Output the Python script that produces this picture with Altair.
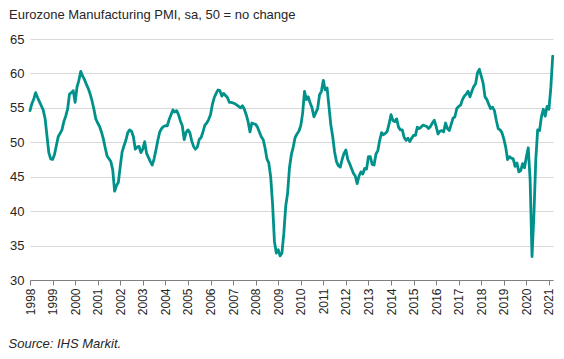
import altair as alt
import pandas as pd

# Monthly Eurozone Manufacturing PMI values, Jan 1998 - Mar 2021
years = list(range(1998, 2022))
pmi_1998 = [54.6, 55.6, 56.3, 57.2, 56.5, 55.9, 55.3, 54.7, 53.5, 51.0, 48.5, 47.6]
pmi_1999 = [47.5, 48.2, 49.5, 50.8, 51.3, 51.8, 53.0, 53.8, 54.8, 57.0, 57.2, 57.5]
pmi_2000 = [55.8, 58.0, 59.0, 60.3, 59.6, 59.1, 58.4, 57.8, 57.0, 56.0, 54.8, 53.4]
pmi_2001 = [52.8, 52.3, 51.5, 50.5, 49.2, 48.0, 47.6, 47.2, 46.0, 42.9, 43.7, 44.2]
pmi_2002 = [46.5, 48.6, 49.5, 50.3, 51.4, 51.8, 51.6, 50.8, 49.0, 49.3, 49.4, 48.5]
pmi_2003 = [49.0, 50.1, 48.4, 47.8, 47.2, 46.7, 47.6, 48.9, 50.3, 51.5, 52.0, 52.3]
pmi_2004 = [52.4, 52.4, 53.3, 54.0, 54.7, 54.4, 54.6, 54.0, 53.1, 52.4, 50.4, 51.4]
pmi_2005 = [51.8, 51.4, 50.2, 49.4, 49.0, 49.3, 50.4, 50.7, 51.5, 52.5, 52.8, 53.3]
pmi_2006 = [54.0, 55.5, 56.5, 57.1, 57.6, 57.5, 56.7, 57.1, 56.8, 56.5, 55.8, 55.8]
pmi_2007 = [55.7, 55.6, 55.4, 55.2, 55.0, 55.3, 54.8, 54.0, 53.0, 51.5, 52.8, 52.7]
pmi_2008 = [52.6, 52.2, 51.5, 50.8, 50.4, 49.2, 47.6, 47.0, 45.0, 41.1, 35.6, 33.9]
pmi_2009 = [34.4, 33.5, 33.9, 36.8, 40.7, 42.6, 46.3, 48.2, 49.3, 50.7, 51.2, 51.6]
pmi_2010 = [52.4, 54.2, 57.4, 56.2, 56.6, 55.7, 55.0, 53.7, 54.3, 54.9, 56.9, 57.4]
pmi_2011 = [59.0, 57.6, 57.9, 55.2, 52.5, 50.8, 48.6, 47.2, 46.6, 46.4, 47.5, 48.4]
pmi_2012 = [48.9, 47.5, 46.9, 46.2, 45.5, 45.1, 44.0, 45.1, 45.7, 45.4, 46.2, 46.1]
pmi_2013 = [47.9, 47.9, 46.8, 46.7, 48.3, 48.8, 50.3, 51.4, 51.1, 51.3, 51.6, 52.7]
pmi_2014 = [54.0, 53.2, 53.0, 53.4, 52.2, 51.8, 51.8, 50.7, 50.3, 50.6, 50.1, 50.6]
pmi_2015 = [51.0, 51.0, 52.2, 52.0, 52.2, 52.5, 52.4, 52.3, 52.0, 52.3, 52.8, 53.2]
pmi_2016 = [52.3, 51.2, 51.6, 51.7, 51.5, 52.8, 52.0, 51.7, 52.6, 53.5, 53.7, 54.9]
pmi_2017 = [55.2, 55.4, 56.2, 56.7, 57.0, 57.4, 56.6, 57.4, 58.1, 58.5, 60.1, 60.6]
pmi_2018 = [59.6, 58.6, 56.6, 56.2, 55.5, 54.9, 55.1, 54.6, 53.2, 52.0, 51.8, 51.4]
pmi_2019 = [50.5, 49.3, 47.5, 47.9, 47.7, 47.6, 46.5, 47.0, 45.7, 45.9, 46.9, 46.3]
pmi_2020 = [47.9, 49.2, 44.5, 33.4, 39.4, 47.4, 51.8, 51.7, 53.7, 54.8, 53.8, 55.2]
pmi_2021 = [54.8, 57.9, 62.5]

series_by_year = [pmi_1998, pmi_1999, pmi_2000, pmi_2001, pmi_2002, pmi_2003,
                  pmi_2004, pmi_2005, pmi_2006, pmi_2007, pmi_2008, pmi_2009,
                  pmi_2010, pmi_2011, pmi_2012, pmi_2013, pmi_2014, pmi_2015,
                  pmi_2016, pmi_2017, pmi_2018, pmi_2019, pmi_2020, pmi_2021]

tick_years = list(range(1998, 2022))
y_ticks = [30, 35, 40, 45, 50, 55, 60, 65]

title_text = "Eurozone Manufacturing PMI, sa, 50 = no change"
source_text = "Source: IHS Markit."

rows = []
for yr, vals in zip(years, series_by_year):
    for i, v in enumerate(vals):
        rows.append({"t": yr + i / 12.0, "pmi": v})
df = pd.DataFrame(rows)

FONT = "Liberation Sans"
TXT = "#262626"

chart = alt.Chart(df).mark_line(
    color="#00918A", strokeWidth=2.8, strokeJoin="round", strokeCap="round"
).encode(
    x=alt.X("t:Q",
            scale=alt.Scale(domain=[1998, 2021.18], nice=False, zero=False),
            axis=alt.Axis(values=tick_years, format="d", labelAngle=270,
                          labelFontSize=12, labelFont=FONT, labelColor=TXT,
                          labelPadding=3, tickSize=5, tickColor="#7f7f7f",
                          domainColor="#7f7f7f", grid=False,
                          title=source_text, titleFont=FONT, titleFontSize=13,
                          titleFontStyle="italic", titleFontWeight="normal",
                          titleColor=TXT, titleAnchor="start", titleAlign="left",
                          titleX=-22, titleY=67, titleBaseline="alphabetic")),
    y=alt.Y("pmi:Q",
            scale=alt.Scale(domain=[30, 65], nice=False, zero=False),
            axis=alt.Axis(values=y_ticks, labelFontSize=13, labelFont=FONT,
                          labelColor=TXT, labelPadding=6, ticks=False,
                          domain=False, gridColor="#d9d9d9", gridWidth=1,
                          title=None)),
).properties(
    width=523, height=241,
    title=alt.TitleParams(text=title_text, anchor="start", frame="group",
                          fontSize=13, fontWeight="normal", font=FONT,
                          color=TXT, dx=-21, dy=3, offset=14),
    autosize=alt.AutoSizeParams(type="none"),
    padding={"left": 22, "top": 31, "right": 3, "bottom": 71},
).configure_view(stroke=None)

chart.save("out.html", embed_options={"renderer": "svg", "actions": False})
